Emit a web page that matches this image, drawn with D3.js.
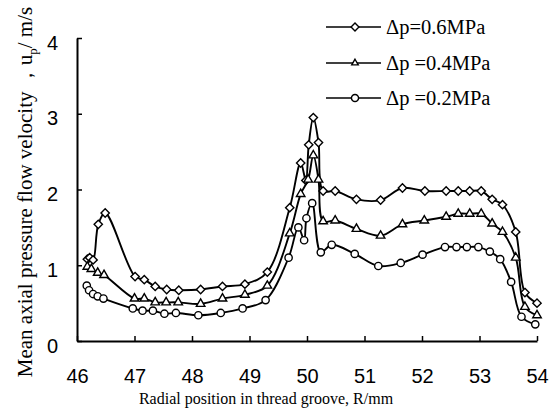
<!doctype html>
<html>
<head>
  <style>
      body { margin:0; background:#fff; }
      svg { width:555px; height:412px; }
      .tick text { font-family:Arial, "Liberation Sans", sans-serif; font-size:20px; fill:#000; }
      .title { font-family:"Times New Roman", "Liberation Serif", serif; fill:#000; }
      .series path { fill:none; stroke:#000; stroke-width:1.9; }
      .series path.mark { fill:#fff; stroke:#000; stroke-width:1.4; }
  </style>
  <script src="https://d3js.org/d3.v7.min.js"></script>
</head>
<body>
  <script>

      // radial position (mm) and velocity (m/s) for each pressure drop
      var r06 = [46.18,46.22,46.28,46.37,46.49,47.01,47.17,47.36,47.56,47.77,48.15,48.53,48.92,49.31,49.70,49.89,49.98,50.03,50.11,50.20,50.28,50.49,50.86,51.28,51.66,52.05,52.42,52.63,52.83,53.03,53.22,53.40,53.63,53.79,54.00];
      var v06 = [1.08,1.10,1.07,1.54,1.69,0.85,0.81,0.72,0.68,0.67,0.68,0.72,0.75,0.91,1.76,2.35,2.12,2.59,2.95,2.62,1.98,1.98,1.87,1.86,2.02,1.98,1.98,1.98,1.98,1.98,1.87,1.80,1.44,0.64,0.50];

      var r04 = [46.18,46.25,46.36,46.47,47.00,47.17,47.36,47.55,47.76,48.15,48.53,48.92,49.31,49.70,49.89,50.02,50.11,50.20,50.28,50.49,50.86,51.28,51.66,52.04,52.42,52.63,52.83,53.03,53.22,53.40,53.63,53.79,54.00];
      var v04 = [0.98,0.95,0.90,0.87,0.56,0.56,0.51,0.51,0.51,0.49,0.56,0.61,0.73,1.42,1.94,2.13,2.45,2.13,1.58,1.59,1.48,1.39,1.54,1.59,1.64,1.68,1.68,1.68,1.55,1.44,1.10,0.45,0.34];

      var r02 = [46.17,46.21,46.28,46.36,46.46,46.97,47.14,47.32,47.52,47.72,48.11,48.50,48.88,49.28,49.68,49.85,49.95,49.99,50.09,50.24,50.43,50.83,51.24,51.63,52.01,52.40,52.60,52.78,52.98,53.18,53.36,53.55,53.73,53.97];
      var v02 = [0.73,0.67,0.62,0.59,0.56,0.43,0.40,0.40,0.36,0.37,0.34,0.37,0.43,0.54,1.10,1.50,1.33,1.62,1.82,1.17,1.27,1.15,0.99,1.03,1.14,1.24,1.24,1.24,1.24,1.18,1.08,0.78,0.32,0.22];

      var seriesNames = ["\u0394p=0.6MPa", "\u0394p =0.4MPa", "\u0394p =0.2MPa"];
      var xTicks = [46,47,48,49,50,51,52,53,54];
      var yTicks = [0,1,2,3,4];

      var series = [
         {name: seriesNames[0], r: r06, v: v06, sym: d3.symbolDiamond2, size: 44, legSize: 40},
         {name: seriesNames[1], r: r04, v: v04, sym: d3.symbolTriangle2, size: 52, legSize: 30},
         {name: seriesNames[2], r: r02, v: v02, sym: d3.symbolCircle, size: 42, legSize: 40}
      ];

      // plot area (top is reserved by window, so padTop)
      var padLeft = 77, padRight = 537, padTop = 38, padBottom = 341;

      var x = d3.scaleLinear().domain([46,54]).range([padLeft,padRight]);
      var y = d3.scaleLinear().domain([0,4]).range([padBottom,padTop]);

      var svg = d3.select("body").append("svg");

      // axes, ticks pointing inward
      var gx = svg.append("g")
         .attr("transform", "translate(0," + padBottom + ")")
         .call(d3.axisBottom(x).tickValues(xTicks).tickFormat(d3.format("d"))
               .tickSize(-5).tickPadding(28).tickSizeOuter(0));
      var gy = svg.append("g")
         .attr("transform", "translate(" + padLeft + ",0)")
         .call(d3.axisLeft(y).tickValues(yTicks).tickFormat(d3.format("d"))
               .tickSize(-5).tickPadding(19).tickSizeOuter(0));

      svg.selectAll(".domain").attr("stroke","#000").attr("stroke-width",2);
      svg.selectAll(".tick line").attr("stroke","#000").attr("stroke-width",1.5);
      gy.selectAll(".tick text").attr("dy","0.55em");

      // data lines and markers
      var line = d3.line()
         .x(function(d) { return x(d[0]); })
         .y(function(d) { return y(d[1]); })
         .curve(d3.curveCatmullRom.alpha(0.5));

      series.forEach(function(s) {
         var pts = s.r.map(function(r,i) { return [r, s.v[i]]; });
         var g = svg.append("g").attr("class","series");
         g.append("path").attr("d", line(pts));
         g.selectAll(".mark").data(pts).enter()
            .append("path")
            .attr("class","mark")
            .attr("transform", function(d) { return "translate(" + x(d[0]) + "," + y(d[1]) + ")"; })
            .attr("d", d3.symbol().type(s.sym).size(s.size));
      });

      // legend
      var legY = [27, 63, 98];
      var leg = svg.append("g").attr("class","series");
      series.forEach(function(s,i) {
         leg.append("path").attr("d", "M326," + legY[i] + "H381").style("stroke-width",1.4);
         leg.append("path").attr("class","mark")
            .attr("transform", "translate(355," + legY[i] + ")")
            .attr("d", d3.symbol().type(s.sym).size(s.legSize));
         svg.append("text").attr("class","title")
            .attr("x", 386).attr("y", legY[i] + 7)
            .style("font-size","20.5px")
            .text(s.name);
      });

      // axis titles
      svg.append("text").attr("class","title")
         .attr("x", 266).attr("y", 404)
         .attr("text-anchor","middle")
         .style("font-size","16px")
         .text("Radial position in thread groove, R/mm");

      var yt = svg.append("text").attr("class","title")
         .attr("transform","translate(32,192) rotate(-90)")
         .attr("text-anchor","middle")
         .style("font-size","21px");
      yt.append("tspan").text("Mean axial pressure flow velocity \uFF0Cu");
      yt.append("tspan").attr("dy",5).style("font-size","13px").text("p");
      yt.append("tspan").attr("dy",-5).text("/ m/s");

  </script>
</body>
</html>
